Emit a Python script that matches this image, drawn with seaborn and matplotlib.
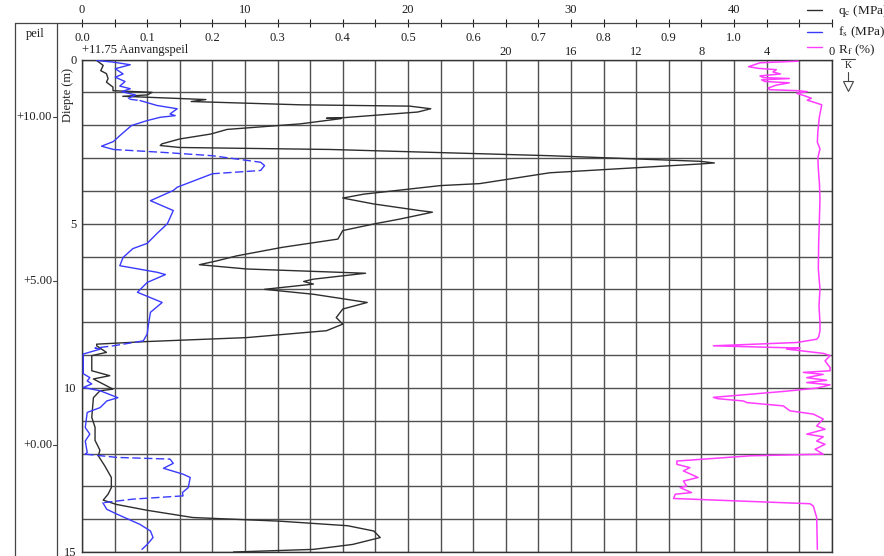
import numpy as np
import matplotlib
matplotlib.use("Agg")
import matplotlib.pyplot as plt
import matplotlib.transforms as mtransforms
from matplotlib.lines import Line2D
from matplotlib.ticker import MultipleLocator
import seaborn as sns

# Cone resistance qc (MPa) against depth (m)
qc_depth = [0.03, 0.18, 0.34, 0.43, 0.58, 0.69, 0.84, 0.95, 1.00, 1.08, 1.12, 1.22, 1.28, 1.38,
            1.42, 1.50, 1.60, 1.77, 1.79, 1.80, 1.96, 2.13, 2.27, 2.42, 2.57, 2.62, 2.68, 2.74,
            2.93, 3.10, 3.15, 3.18, 3.45, 3.78, 3.84, 4.10, 4.22, 4.40, 4.60, 4.65, 4.86, 5.01,
            5.21, 5.47, 5.72, 5.98, 6.13, 6.25, 6.38, 6.51, 6.69, 6.76, 6.84, 7.00, 7.15, 7.40,
            7.60, 7.86, 8.06, 8.26, 8.47, 8.59, 8.67, 8.72, 8.92, 9.02, 9.48, 9.63, 9.73, 10.04,
            10.09, 10.30, 10.90, 11.20, 11.60, 11.90, 12.07, 12.38, 12.73, 13.04, 13.24, 13.42,
            13.55, 13.73, 13.95, 14.06, 14.20, 14.36, 14.56, 14.77, 14.92, 15.00]
qc_value = [0.9, 1.3, 1.15, 1.5, 1.6, 1.5, 1.9, 1.9, 4.3, 4.0, 2.5, 7.6, 6.7, 13.4,
            20.1, 21.4, 20.6, 16.1, 15.0, 15.9, 13.4, 8.9, 7.9, 6.0, 4.9, 4.8, 6.0, 15.2,
            28.7, 37.9, 38.8, 38.0, 28.7, 24.4, 22.0, 17.3, 16.0, 17.9, 20.7, 21.5, 19.5, 17.9,
            16.0, 15.7, 12.3, 9.5, 8.3, 7.2, 10.1, 17.4, 14.2, 13.6, 14.2, 11.2, 14.2, 17.5,
            16.0, 15.6, 16.0, 15.0, 10.1, 4.0, 0.9, 0.9, 1.5, 0.6, 0.6, 1.7, 0.7, 1.9,
            1.1, 0.7, 0.6, 0.8, 0.8, 1.1, 1.0, 1.4, 1.8, 1.8, 1.6, 1.3,
            2.1, 4.0, 6.8, 12.1, 16.3, 17.9, 18.3, 16.6, 14.2, 9.3]

# Sleeve friction fs (MPa) against depth (m)
fs_depth = [0.03, 0.08, 0.16, 0.28, 0.44, 0.54, 0.67, 0.81, 0.89, 0.98, 1.08, 1.20, 1.25, 1.40,
            1.50, 1.66, 1.71, 1.76, 1.86, 2.01, 2.32, 2.50, 2.64, 2.74, 2.83, 2.93, 3.13, 3.23,
            3.38, 3.48, 3.89, 3.99, 4.30, 4.60, 5.00, 5.30, 5.60, 5.76, 6.03, 6.28, 6.48, 6.55,
            6.79, 7.09, 7.40, 7.70, 8.06, 8.36, 8.57, 8.72, 8.79, 8.82, 8.97, 9.57, 9.69, 9.79,
            9.88, 9.99, 10.09, 10.30, 10.40, 10.60, 10.75, 11.21, 11.41, 11.62, 11.97, 12.02,
            12.12, 12.17, 12.30, 12.45, 12.63, 12.73, 13.04, 13.19, 13.29, 13.39, 13.50, 13.70,
            13.85, 14.16, 14.36, 14.56, 14.77, 14.92]
fs_value = [0.023, 0.048, 0.074, 0.051, 0.063, 0.051, 0.066, 0.058, 0.074, 0.061, 0.082, 0.069,
            0.089, 0.115, 0.146, 0.135, 0.143, 0.120, 0.100, 0.076, 0.058, 0.048, 0.030, 0.048,
            0.125, 0.200, 0.274, 0.280, 0.274, 0.200, 0.146, 0.140, 0.105, 0.140, 0.131, 0.115,
            0.100, 0.078, 0.063, 0.058, 0.115, 0.128, 0.100, 0.085, 0.123, 0.105, 0.102, 0.100,
            0.094, 0.048, 0.020, 0.028, 0.002, 0.002, 0.012, 0.008, 0.015, 0.002, 0.028, 0.055,
            0.038, 0.028, 0.008, 0.005, 0.012, 0.005, 0.008, 0.005, 0.054, 0.135, 0.140, 0.125,
            0.155, 0.166, 0.163, 0.154, 0.155, 0.078, 0.032, 0.038, 0.054, 0.089, 0.105, 0.109,
            0.100, 0.092]
# depth intervals where the friction trace is drawn dashed
fs_dashed_ranges = [(1.08, 1.25), (2.74, 3.13), (3.23, 3.48), (8.57, 8.82), (12.02, 12.17),
                    (13.29, 13.50)]

# Friction ratio Rf (%) against depth (m)
rf_depth = [0.05, 0.10, 0.22, 0.27, 0.31, 0.38, 0.44, 0.50, 0.55, 0.58, 0.62, 0.67, 0.71, 0.78,
            0.87, 0.92, 0.95, 0.98, 1.03, 1.10, 1.18, 1.24, 1.30, 1.38, 1.76, 2.20, 2.52, 2.72,
            3.00, 3.33, 3.80, 4.25, 4.96, 5.60, 6.38, 6.99, 7.50, 8.01, 8.26, 8.45, 8.52, 8.62,
            8.72, 8.79, 8.82, 8.95, 9.02, 9.18, 9.38, 9.48, 9.53, 9.59, 9.69, 9.77, 9.84, 9.91,
            10.01, 10.11, 10.29, 10.33, 10.40, 10.45, 10.55, 10.70, 10.80, 10.95, 11.16, 11.26,
            11.41, 11.49, 11.62, 11.72, 11.87, 12.02, 12.07, 12.23, 12.33, 12.43, 12.53, 12.73,
            12.84, 12.99, 13.04, 13.19, 13.24, 13.37, 13.53, 13.60, 13.95, 14.92]
rf_value = [2.05, 4.4, 5.1, 4.5, 3.4, 3.6, 3.15, 4.4, 4.2, 2.6, 4.3, 4.1, 2.6, 3.4,
            3.9, 3.8, 2.05, 1.5, 2.15, 1.7, 1.25, 1.5, 1.1, 0.61, 0.76, 0.85, 0.88, 0.72,
            0.85, 0.82, 0.75, 0.72, 0.76, 0.80, 0.82, 0.72, 0.78, 0.72, 0.72, 0.80, 0.92, 2.15,
            7.26, 1.94, 2.76, 0.52, 0.10, 0.41, 0.10, 0.10, 1.74, 0.52, 1.53, 0.31, 1.53, 0.10,
            0.92, 2.97, 7.26, 7.0, 5.42, 5.2, 2.97, 2.56, 1.13, 0.52, 0.92, 0.41,
            1.53, 0.52, 0.92, 0.41, 1.02, 0.52, 5.0, 9.5, 9.5, 8.7, 9.1, 8.2,
            9.1, 8.9, 9.3, 8.6, 9.6, 9.7, 1.33, 1.13, 0.92, 0.88]

qc_labels = [0, 10, 20, 30, 40]
fs_labels = [0.0, 0.1, 0.2, 0.3, 0.4, 0.5, 0.6, 0.7, 0.8, 0.9, 1.0]
rf_labels = [20, 16, 12, 8, 4, 0]
depth_labels = [0, 5, 10, 15]
peil_levels = [10.0, 5.0, 0.0]
start_level = 11.75

QC_MAX, FS_MAX, DEPTH_MAX = 46, 1.15, 15
C_QC, C_FS, C_RF = "#2e2e2e", "#3a3aff", "#ff3cff"
C_GRID, C_TXT = "#505050", "#1e1e1e"

sns.set_style("white")
plt.rcParams["font.family"] = ["Liberation Serif", "DejaVu Serif"]
plt.rcParams["font.size"] = 9
plt.rcParams["mathtext.fontset"] = "stix"
plt.rcParams["text.color"] = C_TXT
plt.rcParams["xtick.color"] = C_TXT
plt.rcParams["ytick.color"] = C_TXT

W, H = 884, 556
fig = plt.figure(figsize=(W / 100, H / 100), dpi=100)


def fx(px):
    return px / W


def fy(py):
    return 1 - py / H


L, R, T, B = 82, 831.7, 59.5, 552
ax = fig.add_axes([fx(L), fy(B), (R - L) / W, (B - T) / H])

# grid of 2 MPa columns and 1 m rows
ax.set_xlim(0, QC_MAX)
ax.set_ylim(DEPTH_MAX, 0)
ax.set_xticks(np.arange(0, QC_MAX + 1, 2))
ax.set_yticks(np.arange(0, DEPTH_MAX + 1, 1))
ax.set_yticklabels([str(d) if d in depth_labels else "" for d in range(DEPTH_MAX + 1)])
ax.grid(True, color=C_GRID, lw=1.0)
ax.set_axisbelow(True)
for sp in ax.spines.values():
    sp.set_color("#333333")
    sp.set_linewidth(1.0)

# cone resistance
sns.lineplot(x=qc_value, y=qc_depth, sort=False, estimator=None, color=C_QC, lw=1.0, ax=ax)

# sleeve friction on its own horizontal scale
ax_fs = ax.twiny()
ax_fs.set_xlim(0, FS_MAX)


def split_runs(depth, values, ranges):
    runs = []
    cur_d, cur_v = [depth[0]], [values[0]]
    style = None
    for i in range(1, len(depth)):
        mid = 0.5 * (depth[i - 1] + depth[i])
        dashed = any(a <= mid <= b for a, b in ranges)
        if style is None:
            style = dashed
        if dashed != style:
            runs.append((style, cur_d, cur_v))
            cur_d, cur_v = [depth[i - 1]], [values[i - 1]]
            style = dashed
        cur_d.append(depth[i])
        cur_v.append(values[i])
    runs.append((style, cur_d, cur_v))
    return runs


for dashed, d, v in split_runs(fs_depth, fs_value, fs_dashed_ranges):
    sns.lineplot(x=v, y=d, sort=False, estimator=None, color=C_FS, lw=1.0, ax=ax_fs,
                 linestyle=(0, (6, 2.5)) if dashed else "-")

# friction ratio, increasing from the right edge
ax_rf = ax.twiny()
ax_rf.set_xlim(QC_MAX, 0)
sns.lineplot(x=rf_value, y=rf_depth, sort=False, estimator=None, color=C_RF, lw=1.1, ax=ax_rf)

for a in (ax_fs, ax_rf):
    for sp in a.spines.values():
        sp.set_visible(False)
    a.set_xlabel("")
    a.set_ylabel("")

ax_fs.set_xticks(fs_labels)
ax_fs.set_xticklabels([f"{v:.1f}" for v in fs_labels])
ax_fs.tick_params(axis="x", length=0, pad=11.0, top=True, labeltop=True,
                  bottom=False, labelbottom=False)
ax_rf.set_xticks(rf_labels)
ax_rf.set_xticklabels([str(v) for v in rf_labels])
ax_rf.tick_params(axis="x", length=0, pad=1.4, top=True, labeltop=True,
                  bottom=False, labelbottom=False)

ax.set_xlabel("")
ax.set_ylabel("")
ax.tick_params(axis="x", which="both", length=0, labelbottom=False, labeltop=False)
ax.tick_params(axis="y", length=0, pad=4.0)
ax.set_xlim(0, QC_MAX)
ax.set_ylim(DEPTH_MAX, 0)

# qc scale line above the plot
secax = ax.secondary_xaxis(1 + (T - 23) / (B - T))
secax.set_xticks(qc_labels)
secax.xaxis.set_minor_locator(MultipleLocator(2))
secax.tick_params(which="both", direction="inout", length=6, width=0.8, pad=2.0)
secax.spines["top"].set_color("#444444")
secax.spines["top"].set_linewidth(0.9)
fig.add_artist(Line2D([fx(15), fx(L)], [fy(23), fy(23)], color="#444444", lw=0.9))

# level (peil) column
for xp in (15, 57):
    fig.add_artist(Line2D([fx(xp), fx(xp)], [fy(23), 0], color="#444444", lw=0.9))
fig.text(fx(35.5), fy(34), "peil", ha="center", va="center")
trans = mtransforms.blended_transform_factory(fig.transFigure, ax.transData)
for lvl in peil_levels:
    d = start_level - lvl
    fig.text(fx(52), d, f"{lvl:+.2f}", transform=trans, ha="right", va="center")
    fig.add_artist(Line2D([fx(53), fx(57)], [d, d], transform=trans, color="#444444", lw=0.8))

fig.text(fx(68), fy(95), "Diepte (m)", rotation=90, ha="center", va="center")
fig.text(fx(82), fy(50.5), f"{start_level:+.2f} Aanvangspeil", ha="left", va="center")

# legend entries
for yp, ty, col, label in [(9.5, 11.0, C_QC, r"q$_\mathrm{c}$ (MPa)"),
                           (31.7, 32.5, C_FS, r"f$_\mathrm{s}$ (MPa)"),
                           (46.7, 50.0, C_RF, r"R$_\mathrm{f}$ (%)")]:
    fig.add_artist(Line2D([fx(806.7), fx(821.7)], [fy(yp), fy(yp)], color=col, lw=1.0))
    fig.text(fx(838), fy(ty), label, ha="left", va="center", fontsize=9.5)

# water level symbol
fig.add_artist(Line2D([fx(841), fx(855)], [fy(59), fy(59)], color="#444444", lw=0.8))
fig.text(fx(848), fy(65.5), "K", ha="center", va="center", fontsize=7)
fig.add_artist(Line2D([fx(848), fx(848)], [fy(72), fy(82)], color="#444444", lw=0.8))
fig.add_artist(Line2D([fx(848)], [fy(86)], marker="v", markersize=7, mfc="white",
                      mec="#444444", mew=0.8, lw=0))

fig.savefig("out.png", dpi=100)
